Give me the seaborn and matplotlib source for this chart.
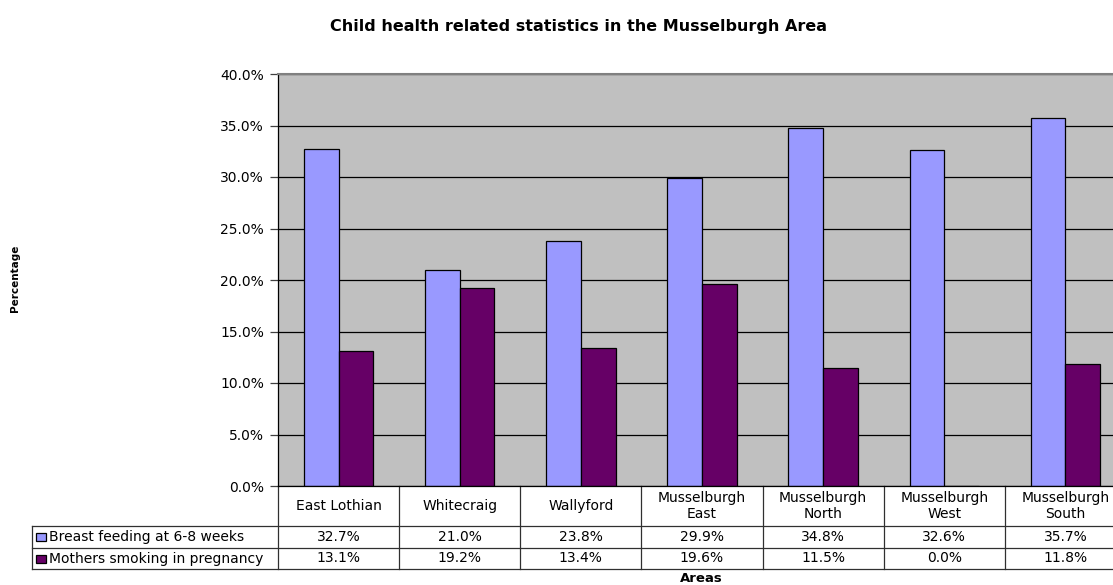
import matplotlib
matplotlib.use('Agg')
import matplotlib.pyplot as plt
import matplotlib.transforms as mtransforms
from matplotlib.patches import Rectangle
import pandas as pd
import seaborn as sns

areas = ['East Lothian', 'Whitecraig', 'Wallyford', 'Musselburgh\nEast',
         'Musselburgh\nNorth', 'Musselburgh\nWest', 'Musselburgh\nSouth']
series = ['Breast feeding at 6-8 weeks', 'Mothers smoking in pregnancy']
breast_feeding = [32.7, 21.0, 23.8, 29.9, 34.8, 32.6, 35.7]
smoking = [13.1, 19.2, 13.4, 19.6, 11.5, 0.0, 11.8]
colors = ['#9999FF', '#660066']
yticks = [0, 5, 10, 15, 20, 25, 30, 35, 40]

df = pd.DataFrame({
    'Area': areas * 2,
    'Series': [series[0]] * len(areas) + [series[1]] * len(areas),
    'Value': breast_feeding + smoking,
})

plt.rcParams['font.family'] = ['DejaVu Sans']
W, H = 1113, 585
fig = plt.figure(figsize=(W / 100, H / 100), dpi=100)
ax = fig.add_axes([278 / W, 99 / H, 848 / W, 412 / H])

sns.barplot(data=df, x='Area', y='Value', hue='Series', order=areas,
            hue_order=series, palette=colors, saturation=1, width=0.572, gap=0,
            edgecolor='black', linewidth=0.9, legend=False, ax=ax)

ax.set_facecolor('#C0C0C0')
ax.set_xlim(-0.5, len(areas) - 0.5)
ax.set_ylim(0, 40)
ax.set_yticks(yticks)
ax.set_yticklabels([f'{v:.1f}%' for v in yticks], fontsize=10)
ax.tick_params(axis='y', length=6, width=0.9, color='#404040', pad=4)
ax.set_xticks([])
ax.set_xlabel('')
ax.set_ylabel('')
ax.yaxis.grid(True, color='black', linewidth=0.9)
ax.set_axisbelow(True)
for s in ['left', 'bottom']:
    ax.spines[s].set_color('black')
    ax.spines[s].set_linewidth(0.9)
ax.spines['top'].set_color('#808080')
ax.spines['top'].set_linewidth(1.5)
ax.spines['right'].set_visible(False)

# data table under the axis
blend = mtransforms.blended_transform_factory(ax.transData, ax.transAxes)
hdr, r1, r2 = -40 / 412, -62 / 412, -83 / 412
left_col = (32 - 278) / 848
lc = '#303030'
for i in range(len(areas) + 1):
    ax.plot([i - 0.5, i - 0.5], [0, r2], transform=blend, color=lc,
            lw=0.9, clip_on=False)
for y in [hdr, r1, r2]:
    ax.plot([left_col, 1.0], [y, y], transform=ax.transAxes, color=lc,
            lw=0.9, clip_on=False)
ax.plot([left_col, left_col], [hdr, r2], transform=ax.transAxes, color=lc,
        lw=0.9, clip_on=False)

for i, a in enumerate(areas):
    ax.text(i, hdr / 2, a, transform=blend, ha='center', va='center',
            fontsize=10, linespacing=1.15)
    ax.text(i, (hdr + r1) / 2, f'{breast_feeding[i]:.1f}%', transform=blend,
            ha='center', va='center', fontsize=10)
    ax.text(i, (r1 + r2) / 2, f'{smoking[i]:.1f}%', transform=blend,
            ha='center', va='center', fontsize=10)

for yc, name, c in [((hdr + r1) / 2, series[0], colors[0]),
                    ((r1 + r2) / 2, series[1], colors[1])]:
    ax.add_patch(Rectangle((left_col + 4 / 848, yc - 4 / 412), 10 / 848, 8 / 412,
                           transform=ax.transAxes, facecolor=c,
                           edgecolor='black', lw=0.9, clip_on=False))
    ax.text(left_col + 17 / 848, yc, name, transform=ax.transAxes,
            ha='left', va='center', fontsize=10)

fig.text(579 / W, 1 - 27 / H, 'Child health related statistics in the Musselburgh Area',
         ha='center', va='center', fontsize=11.5, fontweight='bold')
fig.text(15 / W, 1 - 278 / H, 'Percentage', rotation=90, ha='center',
         va='center', fontsize=7.5, fontweight='bold')
fig.text(701 / W, 1 - 578 / H, 'Areas', ha='center', va='center',
         fontsize=9.5, fontweight='bold')

fig.savefig('out.png', dpi=100)
